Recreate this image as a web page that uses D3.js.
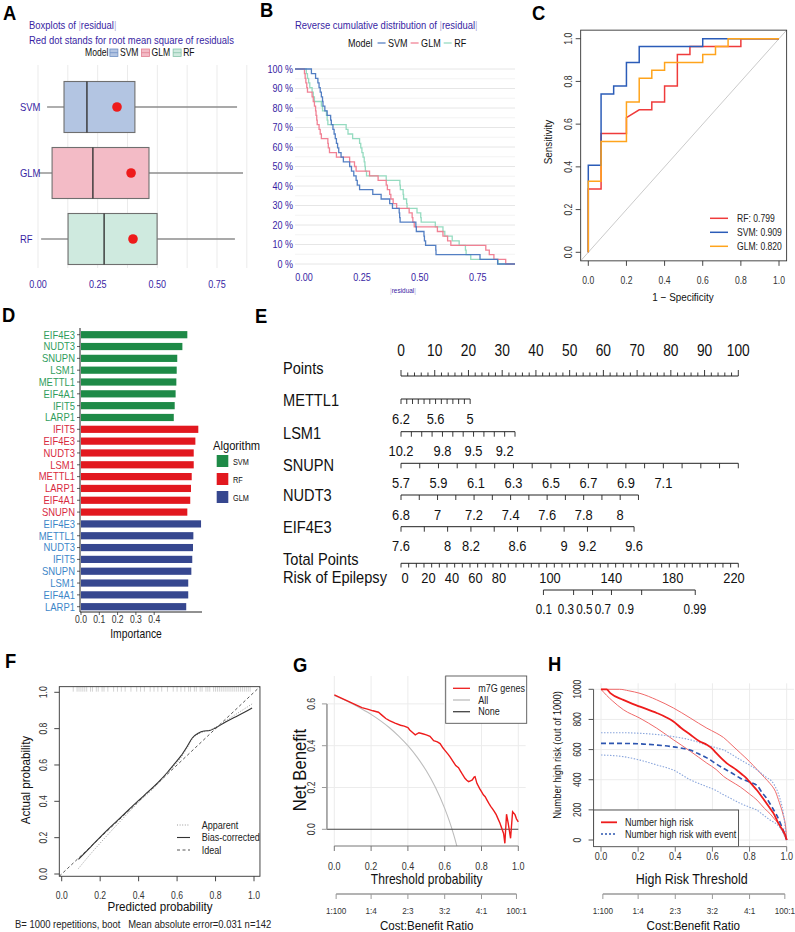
<!DOCTYPE html>
<html>
<head>
<meta charset="utf-8">
<script src="https://cdn.jsdelivr.net/npm/d3@7"></script>
<style>
  html, body { margin: 0; padding: 0; background: #fff; }
  svg { display: block; font-family: "Liberation Sans", Arial, Helvetica, sans-serif; }
</style>
</head>
<body>
<svg id="fig" width="795" height="932"></svg>
<script>
// ---------------- data ----------------
// A / B : absolute residuals per model
const models = ["SVM", "GLM", "RF"];
const boxQ1 = [0.109, 0.059, 0.126];
const boxMedian = [0.205, 0.23, 0.277];
const boxQ3 = [0.406, 0.465, 0.499];
const whiskerLow = [0.038, 0.004, 0.013];
const whiskerHigh = [0.834, 0.859, 0.825];
const rmse = [0.331, 0.39, 0.398];

const residSVM = [0.032,0.05,0.06,0.065,0.07,0.075,0.08,0.082,0.09,0.10,0.115,0.118,0.125,0.13,0.135,0.14,0.145,0.15,0.16,0.17,0.197,0.205,0.215,0.225,0.23,0.24,0.297,0.333,0.37,0.382,0.411,0.413,0.415,0.483,0.485,0.518,0.52,0.525,0.569,0.57,0.76,0.836];
const residGLM = [0.002,0.005,0.008,0.012,0.015,0.035,0.04,0.045,0.05,0.052,0.055,0.057,0.065,0.07,0.075,0.103,0.105,0.11,0.14,0.197,0.218,0.225,0.283,0.32,0.355,0.36,0.37,0.375,0.385,0.40,0.454,0.467,0.47,0.476,0.576,0.60,0.62,0.634,0.785,0.80,0.82,0.871];
const residRF = [0.01,0.015,0.02,0.025,0.035,0.04,0.045,0.075,0.08,0.097,0.10,0.103,0.182,0.19,0.21,0.24,0.245,0.25,0.255,0.26,0.263,0.265,0.27,0.355,0.414,0.416,0.428,0.43,0.443,0.445,0.488,0.504,0.506,0.567,0.60,0.608,0.64,0.67,0.697,0.70,0.72,0.838];

// C : ROC curves (1 - specificity, sensitivity)
const rocNames = ["RF", "SVM", "GLM"];
const rocAuc = [0.799, 0.909, 0.820];
const rocRF = [[0,0],[0,0.296],[0.067,0.296],[0.067,0.556],[0.2,0.556],[0.2,0.63],[0.267,0.667],[0.333,0.667],[0.333,0.704],[0.4,0.704],[0.4,0.778],[0.467,0.778],[0.467,0.926],[0.533,0.926],[0.533,0.963],[0.8,0.963],[0.8,1],[1,1]];
const rocSVM = [[0,0],[0,0.407],[0.067,0.407],[0.067,0.741],[0.133,0.741],[0.133,0.778],[0.2,0.778],[0.2,0.889],[0.267,0.889],[0.267,0.963],[0.6,0.963],[0.6,1],[1,1]];
const rocGLM = [[0,0],[0,0.333],[0.067,0.333],[0.067,0.519],[0.2,0.519],[0.2,0.704],[0.267,0.704],[0.267,0.815],[0.333,0.815],[0.333,0.852],[0.4,0.852],[0.4,0.889],[0.6,0.889],[0.6,0.926],[0.667,0.926],[0.667,0.963],[0.733,0.963],[0.733,1],[1,1]];

// D : importance
const algorithms = ["SVM", "RF", "GLM"];
const genesSVM = ["EIF4E3","NUDT3","SNUPN","LSM1","METTL1","EIF4A1","IFIT5","LARP1"];
const impSVM = [0.581,0.554,0.526,0.523,0.521,0.517,0.512,0.507];
const genesRF = ["IFIT5","EIF4E3","NUDT3","LSM1","METTL1","LARP1","EIF4A1","SNUPN"];
const impRF = [0.641,0.625,0.616,0.616,0.605,0.601,0.597,0.581];
const genesGLM = ["EIF4E3","METTL1","NUDT3","IFIT5","SNUPN","LSM1","EIF4A1","LARP1"];
const impGLM = [0.656,0.614,0.612,0.608,0.603,0.586,0.586,0.575];
const impTicks = [0, 0.1, 0.2, 0.3, 0.4];

// E : nomogram
const nomoVars = ["METTL1", "LSM1", "SNUPN", "NUDT3", "EIF4E3"];
const nomoFrom = [6.2, 10.2, 5.7, 6.8, 7.6];
const nomoTo = [5.0, 9.1, 7.5, 8.1, 9.6];
const nomoToPoints = [20.5, 33.8, 100, 70.4, 69.1];
const nomoStep = [0.1, 0.1, 0.1, 0.1, 0.2];
const nomoLabels = [[6.2,5.6,5],[10.2,9.8,9.5,9.2],[5.7,5.9,6.1,6.3,6.5,6.7,6.9,7.1],[6.8,7,7.2,7.4,7.6,7.8,8],[7.6,8,8.2,8.6,9,9.2,9.6]];
const totalLabels = [0,20,40,60,80,100,140,180,220];
const riskLabels = [0.1,0.3,0.5,0.7,0.9,0.99];
const lpIntercept = -8.57, lpSlope = 0.0686;

// F : calibration
const calBiasX = [0.087,0.15,0.2,0.25,0.3,0.35,0.4,0.45,0.5,0.55,0.58,0.62,0.65,0.68,0.71,0.74,0.77,0.8,0.85,0.9,0.95,0.99];
const calBiasY = [0.08,0.148,0.203,0.255,0.305,0.355,0.405,0.453,0.503,0.56,0.598,0.65,0.698,0.75,0.775,0.787,0.79,0.804,0.835,0.863,0.89,0.914];
const calAppX = [0.087,0.15,0.2,0.3,0.4,0.5,0.58,0.62,0.65,0.68,0.72,0.77,0.8,0.9,0.99];
const calAppY = [0.03,0.11,0.17,0.285,0.395,0.495,0.59,0.64,0.69,0.745,0.775,0.792,0.808,0.875,0.936];
const calRug = [0.06,0.08,0.09,0.1,0.11,0.12,0.13,0.15,0.16,0.18,0.19,0.21,0.22,0.24,0.27,0.29,0.31,0.33,0.36,0.39,0.41,0.43,0.46,0.48,0.5,0.52,0.55,0.58,0.6,0.62,0.64,0.66,0.67,0.69,0.7,0.72,0.73,0.75,0.76,0.77,0.79,0.8,0.81,0.82,0.83,0.84,0.85,0.86,0.87,0.88,0.89,0.9,0.91,0.92,0.93,0.94,0.95,0.96,0.97,0.98];

// G : decision curve
const dcaThresh = [0,0.05,0.10,0.15,0.18,0.21,0.24,0.26,0.28,0.30,0.33,0.36,0.38,0.40,0.41,0.43,0.44,0.46,0.48,0.50,0.52,0.54,0.56,0.575,0.59,0.60,0.62,0.63,0.645,0.66,0.675,0.685,0.695,0.71,0.72,0.73,0.74,0.75,0.76,0.765,0.775,0.79,0.80,0.81,0.82,0.83,0.84,0.85,0.86,0.87,0.88,0.89,0.90,0.91,0.92,0.927,0.936,0.945,0.958,0.969,0.982,0.99,1.0];
const dcaModel = [0.643,0.623,0.603,0.582,0.575,0.567,0.56,0.545,0.53,0.52,0.508,0.498,0.494,0.487,0.475,0.46,0.452,0.462,0.457,0.452,0.445,0.424,0.418,0.41,0.39,0.379,0.357,0.345,0.325,0.305,0.295,0.28,0.265,0.244,0.235,0.228,0.232,0.236,0.25,0.252,0.22,0.195,0.18,0.165,0.156,0.14,0.124,0.11,0.098,0.085,0.07,0.05,0.03,0.005,-0.02,-0.067,0.072,0.03,-0.043,0.084,0.07,0.05,0.036];
const dcaAllThresh = [0,0.05,0.1,0.15,0.2,0.25,0.3,0.35,0.4,0.45,0.5,0.55,0.6,0.625,0.65,0.675];
const dcaAll = [0.64,0.621,0.6,0.576,0.55,0.52,0.486,0.446,0.4,0.345,0.28,0.2,0.1,0.04,-0.029,-0.11];
const costTicks = [0.01,0.2,0.4,0.6,0.8,0.99];
const costLabels = ["1:100","1:4","2:3","3:2","4:1","100:1"];

// H : clinical impact
const hrX = [0,0.03,0.05,0.12,0.21,0.30,0.35,0.39,0.43,0.48,0.53,0.57,0.60,0.62,0.65,0.68,0.73,0.76,0.785,0.81,0.84,0.87,0.89,0.91,0.93,0.955,0.975,0.99,1];
const hrY = [1000,1000,975,930,885,843,815,787,745,700,655,632,605,578,540,507,465,435,408,372,330,280,245,210,175,112,72,40,0];
const hrHiX = [0,0.1,0.15,0.21,0.3,0.39,0.48,0.57,0.62,0.66,0.70,0.75,0.80,0.84,0.88,0.91,0.94,0.96,0.98,0.995,1];
const hrHiY = [1000,1000,990,973,930,876,810,742,710,680,635,578,520,468,415,375,320,250,170,80,0];
const hrLoX = [0,0.03,0.06,0.12,0.21,0.3,0.39,0.48,0.57,0.62,0.66,0.70,0.75,0.80,0.84,0.88,0.91,0.94,0.96,0.98,1];
const hrLoY = [1000,960,925,865,808,742,665,590,510,468,422,390,352,305,265,210,175,130,100,50,0];
const evX = [0,0.1,0.21,0.3,0.39,0.45,0.48,0.52,0.57,0.62,0.66,0.70,0.75,0.80,0.84,0.87,0.89,0.92,0.946,0.973,1];
const evY = [641,641,638,630,618,605,597,575,545,505,475,448,410,385,362,310,280,220,165,90,0];
const evHiX = [0,0.1,0.21,0.3,0.39,0.48,0.57,0.62,0.66,0.70,0.75,0.80,0.84,0.88,0.93,0.96,0.98,1];
const evHiY = [712,712,708,700,686,665,630,612,597,570,532,498,465,425,372,290,190,0];
const evLoX = [0,0.12,0.21,0.3,0.39,0.48,0.57,0.62,0.66,0.70,0.75,0.80,0.84,0.88,0.91,0.96,1];
const evLoY = [564,553,530,498,464,400,354,328,300,275,243,218,198,160,133,88,0];

// ---------------- helpers ----------------
const svg = d3.select("#fig");
const SX = 0.86;
const PURPLE = "#371ea3";

const txt = (g, x, y, s, o = {}) => {
  const t = g.append("text")
    .attr("transform", `translate(${x},${y})` + (o.rotate ? ` rotate(${o.rotate})` : "") + ` scale(${o.sx ?? SX},1)`)
    .attr("text-anchor", o.anchor || "start")
    .attr("dy", "0.35em")
    .attr("font-size", o.size || 11)
    .attr("fill", o.fill || "#111")
    .style("white-space", "pre")
    .text(s);
  if (o.bold) t.attr("font-weight", "bold");
  return t;
};

const seg = (g, x1, y1, x2, y2, stroke = "#000", width = 1, dash = null) =>
  g.append("line").attr("x1", x1).attr("y1", y1).attr("x2", x2).attr("y2", y2)
    .attr("stroke", stroke).attr("stroke-width", width).attr("stroke-dasharray", dash);

const clipRect = (id, x0, y0, x1, y1) => {
  svg.append("clipPath").attr("id", id).append("rect")
    .attr("x", x0).attr("y", y0).attr("width", x1 - x0).attr("height", y1 - y0);
  return `url(#${id})`;
};

const zip = (xs, ys) => xs.map((x, i) => [x, ys[i]]);
const fmt1 = d3.format(".1f");

// panel letters
[["A", 3, 12.5], ["B", 260, 10], ["C", 532, 12.5], ["D", 2, 315], ["E", 255, 316],
 ["F", 5, 660.5], ["G", 293, 664.5], ["H", 548, 663.5]]
  .forEach(([l, x, y]) => txt(svg, x, y, l, { size: 20, bold: true, sx: 0.92, fill: "#000" }));

// ---------------- A: boxplots ----------------
(function () {
  const g = svg.append("g");
  const xA = d3.scaleLinear([0, 0.75], [38, 217]);
  const yA = d3.scalePoint(models, [107, 239]);
  const boxH = 51;
  const boxFill = { SVM: "#b3c5e2", GLM: "#f3bbc6", RF: "#cfeadf" };
  const keyStroke = { SVM: "#6e8fc4", GLM: "#e07f91", RF: "#86c3a9" };

  g.selectAll("line.grid").data(d3.range(0, 0.876, 0.125)).join("line").attr("class", "grid")
    .attr("x1", d => xA(d)).attr("x2", d => xA(d)).attr("y1", 65).attr("y2", 268)
    .attr("stroke", "#ebebeb");

  const t1 = txt(g, 29, 25, "", { size: 11, fill: PURPLE });
  t1.append("tspan").text("Boxplots of ");
  t1.append("tspan").attr("fill", "#b0aad8").text("|");
  t1.append("tspan").text("residual");
  t1.append("tspan").attr("fill", "#b0aad8").text("|");
  txt(g, 29, 40, "Red dot stands for root mean square of residuals", { size: 11, fill: PURPLE });

  // legend
  let x = 85;
  const lt = txt(g, x, 52.7, "Model", { size: 10 });
  x += lt.node().getComputedTextLength() * SX + 1.5;
  models.forEach(m => {
    g.append("rect").attr("x", x).attr("y", 49).attr("width", 8).attr("height", 7.5)
      .attr("fill", boxFill[m]).attr("stroke", keyStroke[m]).attr("stroke-width", 0.8);
    seg(g, x, 52.7, x + 8, 52.7, keyStroke[m], 0.8);
    x += 10;
    const t = txt(g, x, 52.7, m, { size: 10 });
    x += t.node().getComputedTextLength() * SX + 3;
  });

  models.forEach((m, i) => {
    const cy = yA(m);
    seg(g, xA(whiskerLow[i]), cy, xA(boxQ1[i]), cy, "#8c8c8c", 1.4);
    seg(g, xA(boxQ3[i]), cy, xA(whiskerHigh[i]), cy, "#8c8c8c", 1.4);
    g.append("rect").attr("x", xA(boxQ1[i])).attr("y", cy - boxH / 2)
      .attr("width", xA(boxQ3[i]) - xA(boxQ1[i])).attr("height", boxH)
      .attr("fill", boxFill[m]).attr("stroke", "#6f6f6f").attr("stroke-width", 1.1);
    seg(g, xA(boxMedian[i]), cy - boxH / 2, xA(boxMedian[i]), cy + boxH / 2, "#333", 1.4);
    g.append("circle").attr("cx", xA(rmse[i])).attr("cy", cy).attr("r", 4.8).attr("fill", "#ee1b1b");
    txt(g, 20, cy, m, { size: 11, fill: PURPLE });
  });

  [0, 0.25, 0.5, 0.75].forEach(v => txt(g, xA(v), 284, d3.format(".2f")(v), { size: 10.5, fill: PURPLE, anchor: "middle" }));
})();

// ---------------- B: reverse cumulative distribution ----------------
(function () {
  const g = svg.append("g");
  const xB = d3.scaleLinear([0, 0.75], [304, 477.7]);
  const yB = d3.scaleLinear([0, 1], [264, 69]);
  const left = 295, right = 515;
  const lineColor = { SVM: "#4a78c0", GLM: "#f07a8e", RF: "#8fd9bd" };
  const resid = { SVM: residSVM, GLM: residGLM, RF: residRF };

  g.selectAll("line.grid").data(d3.range(0, 1.001, 0.05)).join("line").attr("class", "grid")
    .attr("x1", left).attr("x2", right).attr("y1", d => yB(d)).attr("y2", d => yB(d))
    .attr("stroke", (d, i) => i % 2 ? "#f3f3f3" : "#e6e6e6");

  const t1 = txt(g, 295, 25, "", { size: 11, fill: PURPLE });
  t1.append("tspan").text("Reverse cumulative distribution of ");
  t1.append("tspan").attr("fill", "#b0aad8").text("|");
  t1.append("tspan").text("residual");
  t1.append("tspan").attr("fill", "#b0aad8").text("|");

  let x = 348;
  const lt = txt(g, x, 43, "Model", { size: 10.5 });
  x += lt.node().getComputedTextLength() * SX + 5;
  models.forEach(m => {
    seg(g, x, 43, x + 8, 43, lineColor[m], 1.2);
    x += 10.5;
    const t = txt(g, x, 43, m, { size: 10.5 });
    x += t.node().getComputedTextLength() * SX + 3;
  });

  const line = d3.line().x(d => xB(d[0])).y(d => yB(d[1])).curve(d3.curveStepAfter);
  ["RF", "GLM", "SVM"].forEach(m => {
    const s = resid[m].slice().sort(d3.ascending), n = s.length;
    const pts = [[xB.invert(left), 1], ...s.map((v, i) => [v, (n - i - 1) / n]), [xB.invert(right), 0]];
    g.append("path").attr("d", line(pts)).attr("fill", "none")
      .attr("stroke", lineColor[m]).attr("stroke-width", 1.3).attr("stroke-opacity", 0.95);
  });

  d3.range(0, 1.001, 0.1).forEach(v => txt(g, 293, yB(v), `${Math.round(v * 100)} %`, { size: 10.5, fill: PURPLE, anchor: "end" }));
  [0, 0.25, 0.5, 0.75].forEach(v => txt(g, xB(v), 277, d3.format(".2f")(v), { size: 10.5, fill: PURPLE, anchor: "middle" }));
  const t2 = txt(g, 403, 290, "", { size: 7.5, fill: PURPLE, anchor: "middle" });
  t2.append("tspan").attr("fill", "#b0aad8").text("|");
  t2.append("tspan").text("residual");
  t2.append("tspan").attr("fill", "#b0aad8").text("|");
})();

// ---------------- C: ROC ----------------
(function () {
  const g = svg.append("g");
  const xC = d3.scaleLinear([0, 1], [588.3, 779]);
  const yC = d3.scaleLinear([0, 1], [252.3, 38.7]);
  const x0 = xC(-0.04), x1 = xC(1.04), y0 = yC(-0.04), y1 = yC(1.04);
  const rocColor = { RF: "#ef3b3b", SVM: "#2b5cb8", GLM: "#ffa41c" };
  const rocData = { RF: rocRF, SVM: rocSVM, GLM: rocGLM };
  const clip = clipRect("clipC", x0, y1, x1, y0);

  seg(g, x0, y0, x1, y1, "#c4c4c4", 0.9).attr("clip-path", clip);
  const line = d3.line().x(d => xC(d[0])).y(d => yC(d[1]));
  rocNames.forEach(n => g.append("path").attr("d", line(rocData[n])).attr("fill", "none")
    .attr("stroke", rocColor[n]).attr("stroke-width", 1.5).attr("clip-path", clip));

  g.append("rect").attr("x", x0).attr("y", y1).attr("width", x1 - x0).attr("height", y0 - y1)
    .attr("fill", "none").attr("stroke", "#333").attr("stroke-width", 0.9);

  d3.range(0, 1.001, 0.2).forEach(v => {
    seg(g, x0, yC(v), x0 - 5, yC(v), "#333", 0.9);
    txt(g, x0 - 12.5, yC(v), fmt1(v), { size: 10, rotate: -90, anchor: "middle", fill: "#333" });
    seg(g, xC(v), y0, xC(v), y0 + 5, "#333", 0.9);
    txt(g, xC(v), 280, fmt1(v), { size: 10, anchor: "middle", fill: "#333" });
  });
  txt(g, 548, 142, "Sensitivity", { size: 11.5, rotate: -90, anchor: "middle" });
  txt(g, 683, 297, "1 \u2212 Specificity", { size: 11.5, anchor: "middle" });

  rocNames.forEach((n, i) => {
    const ly = 218.3 + i * 14;
    seg(g, 710, ly, 728, ly, rocColor[n], 1.5);
    txt(g, 737, ly, `${n}: ${d3.format(".3f")(rocAuc[i])}`, { size: 10, fill: "#222" });
  });
})();

// ---------------- D: importance bars ----------------
(function () {
  const g = svg.append("g");
  const xD = d3.scaleLinear([0, 0.4], [81, 154.2]);
  const barColor = { SVM: "#1e8a47", RF: "#e2181f", GLM: "#36478f" };
  const textColor = { SVM: "#2f9d5c", RF: "#d82a3e", GLM: "#3c86c8" };
  const groups = { SVM: [genesSVM, impSVM], RF: [genesRF, impRF], GLM: [genesGLM, impGLM] };
  const rows = algorithms.flatMap(a => groups[a][0].map((gene, i) => ({ alg: a, gene, v: groups[a][1][i] })));
  const yD = d3.scalePoint(d3.range(rows.length), [334.7, 606.7]);
  const barH = 7.2;

  g.selectAll("rect.bar").data(rows).join("rect").attr("class", "bar")
    .attr("x", xD(0)).attr("y", (d, i) => yD(i) - barH / 2)
    .attr("width", d => xD(d.v) - xD(0)).attr("height", barH)
    .attr("fill", d => barColor[d.alg]);

  seg(g, 80, 328, 80, 612, "#222", 1);
  seg(g, 80, 612, 202, 612, "#222", 1);
  rows.forEach((d, i) => {
    seg(g, 77, yD(i), 80, yD(i), "#333", 0.8);
    txt(g, 75, yD(i), d.gene, { size: 11, anchor: "end", fill: textColor[d.alg] });
  });
  impTicks.forEach(v => {
    seg(g, xD(v), 612, xD(v), 615, "#333", 0.8);
    txt(g, xD(v), 619.5, fmt1(v), { size: 10, anchor: "middle", fill: "#333" });
  });
  txt(g, 136, 633.5, "Importance", { size: 12, anchor: "middle" });

  txt(g, 213, 445, "Algorithm", { size: 13 });
  algorithms.forEach((a, i) => {
    const cy = 461 + i * 18;
    g.append("rect").attr("x", 216.7).attr("y", cy - 6).attr("width", 11.6).attr("height", 12).attr("fill", barColor[a]);
    txt(g, 233, cy + 1, a, { size: 8.5 });
  });
})();

// ---------------- E: nomogram ----------------
(function () {
  const g = svg.append("g");
  const xP = d3.scaleLinear([0, 100], [401, 738.3]);
  const xT = d3.scaleLinear([0, 220], [401, 738.3]);
  // the printed numbers of the two bottom rows sit crowded to the left in the source figure
  const xTotalLabel = d3.scaleLinear([0, 80, 100, 220], [405, 499, 550, 734]);
  const xRiskLabel = d3.scaleLinear([0.1, 0.3, 0.7, 0.9, 0.99], [544, 566, 603, 626, 695]);
  const ink = "#222";
  const rowLabel = (y, s) => txt(g, 283, y, s, { size: 17, fill: "#111" });

  // points axis
  rowLabel(368, "Points");
  seg(g, xP(0), 376, xP(100), 376, ink, 1);
  d3.range(0, 100.1, 2).forEach(v => seg(g, xP(v), 376, xP(v), v % 10 === 0 ? 370 : 372.5, ink, 0.9));
  d3.range(0, 100.1, 10).forEach(v => txt(g, xP(v), 350.7, String(v), { size: 16, anchor: "middle" }));

  // variable axes
  const axisY = [399, 431.7, 463.3, 495, 526.7];
  const labelY = [400, 433.3, 465, 495, 526.7];
  nomoVars.forEach((name, k) => {
    const sc = d3.scaleLinear([nomoFrom[k], nomoTo[k]], [xP(0), xP(nomoToPoints[k])]);
    const y = axisY[k];
    rowLabel(labelY[k], name);
    seg(g, sc(nomoFrom[k]), y, sc(nomoTo[k]), y, ink, 1);
    const n = Math.round(Math.abs(nomoTo[k] - nomoFrom[k]) / nomoStep[k]);
    const dir = Math.sign(nomoTo[k] - nomoFrom[k]);
    d3.range(n + 1).forEach(i => {
      const v = nomoFrom[k] + dir * i * nomoStep[k];
      seg(g, sc(v), y, sc(v), y + 5, ink, 0.9);
    });
    nomoLabels[k].forEach(v => txt(g, sc(v), y + 19.5, String(v), { size: 15, anchor: "middle" }));
  });

  // total points
  rowLabel(559.5, "Total Points");
  seg(g, xT(0), 563.3, xT(220), 563.3, ink, 1);
  d3.range(0, 220.1, 5).forEach(v => seg(g, xT(v), 563.3, xT(v), 567.5, ink, 0.9));
  totalLabels.forEach(v => txt(g, xTotalLabel(v), 577.5, String(v), { size: 15, anchor: "middle" }));

  // risk
  rowLabel(577.5, "Risk of Epilepsy");
  const riskX = p => xT((Math.log(p / (1 - p)) - lpIntercept) / lpSlope);
  seg(g, riskX(riskLabels[0]), 590, riskX(riskLabels[riskLabels.length - 1]), 590, ink, 1);
  riskLabels.forEach(p => {
    seg(g, riskX(p), 590, riskX(p), 595, ink, 0.9);
    txt(g, xRiskLabel(p), 608.3, String(p), { size: 15, anchor: "middle", sx: 0.78 });
  });
})();

// ---------------- F: calibration ----------------
(function () {
  const g = svg.append("g");
  const xF = d3.scaleLinear([0, 1], [61.7, 254]);
  const yF = d3.scaleLinear([0, 1], [874, 692.3]);
  const x0 = xF(-0.0125), x1 = xF(1.031), y0 = yF(-0.0125), y1 = yF(1.031);
  const clip = clipRect("clipF", x0, y1, x1, y0);
  const line = d3.line().x(d => xF(d[0])).y(d => yF(d[1])).curve(d3.curveMonotoneX);

  calRug.forEach(v => seg(g, xF(v), y1, xF(v), y1 + 5, "#b5b5b5", 0.6));
  seg(g, xF(-0.0125), yF(-0.0125), xF(1.031), yF(1.031), "#444", 0.9, "3,2.5").attr("clip-path", clip);
  g.append("path").attr("d", line(zip(calAppX, calAppY))).attr("fill", "none")
    .attr("stroke", "#9a9a9a").attr("stroke-width", 1).attr("stroke-dasharray", "1,1.6");
  g.append("path").attr("d", line(zip(calBiasX, calBiasY))).attr("fill", "none")
    .attr("stroke", "#333").attr("stroke-width", 1.1);

  g.append("rect").attr("x", x0).attr("y", y1).attr("width", x1 - x0).attr("height", y0 - y1)
    .attr("fill", "none").attr("stroke", "#333").attr("stroke-width", 0.9);
  d3.range(0, 1.001, 0.2).forEach(v => {
    seg(g, xF(v), y0, xF(v), y0 + 5, "#333", 0.9);
    txt(g, xF(v), 895, fmt1(v), { size: 10, anchor: "middle", fill: "#333" });
    seg(g, x0, yF(v), x0 - 5, yF(v), "#333", 0.9);
    txt(g, 43.3, yF(v), fmt1(v), { size: 10, rotate: -90, anchor: "middle", fill: "#333" });
  });
  txt(g, 25, 780, "Actual probability", { size: 13.5, rotate: -90, anchor: "middle" });
  txt(g, 160, 906, "Predicted probability", { size: 13.5, anchor: "middle" });

  const leg = [["Apparent", "#9a9a9a", "1,1.6", 1], ["Bias-corrected", "#333", null, 1.1], ["Ideal", "#444", "3,2.5", 0.9]];
  leg.forEach(([s, c, dash, w], i) => {
    const ly = 825 + i * 12.5;
    seg(g, 177, ly, 190, ly, c, w, dash);
    txt(g, 201.7, ly, s, { size: 10.5, fill: "#222" });
  });
  txt(g, 15, 924, "B= 1000 repetitions, boot   Mean absolute error=0.031 n=142", { size: 11, fill: "#222" });
})();

// ---------------- G: decision curve ----------------
(function () {
  const g = svg.append("g");
  const xG = d3.scaleLinear([0, 1], [334.3, 518.3]);
  const yG = d3.scaleLinear([0, 0.6], [829.3, 703.9]);
  const left = xG(-0.04), right = xG(1.04), top = 676, bottom = 846;
  const clip = clipRect("clipG", left, top, right, bottom);
  const line = d3.line().x(d => xG(d[0])).y(d => yG(d[1]));

  d3.range(0, 1.001, 0.2).forEach(v => seg(g, xG(v), top, xG(v), bottom, "#ececec", 1));
  [0.2, 0.4, 0.6].forEach(v => seg(g, left, yG(v), right, yG(v), "#ececec", 1));

  g.append("path").attr("d", line.curve(d3.curveMonotoneX)(zip(dcaAllThresh, dcaAll)))
    .attr("fill", "none").attr("stroke", "#bdbdbd").attr("stroke-width", 1.1).attr("clip-path", clip);
  seg(g, left, yG(0), xG(1), yG(0), "#444", 1.1);
  g.append("path").attr("d", line.curve(d3.curveLinear)(zip(dcaThresh, dcaModel)))
    .attr("fill", "none").attr("stroke", "#ee1c1c").attr("stroke-width", 1.4).attr("clip-path", clip);

  // axes
  seg(g, left, yG(0), left, yG(0.6), "#9a9a9a", 1.6);
  [0, 0.2, 0.4, 0.6].forEach(v => {
    seg(g, left, yG(v), left - 5, yG(v), "#9a9a9a", 1);
    txt(g, 311.7, yG(v), fmt1(v), { size: 10, rotate: -90, anchor: "middle", fill: "#333" });
  });
  seg(g, xG(0), bottom, xG(1), bottom, "#777", 1);
  d3.range(0, 1.001, 0.2).forEach(v => {
    seg(g, xG(v), bottom, xG(v), bottom + 5, "#777", 1);
    txt(g, xG(v), 866.7, fmt1(v), { size: 10.5, anchor: "middle", fill: "#333" });
  });
  txt(g, 300, 770, "Net Benefit", { size: 18.5, rotate: -90, anchor: "middle", sx: 0.9 });
  txt(g, 426.7, 879.3, "Threshold probability", { size: 14, anchor: "middle" });

  seg(g, xG(costTicks[0]), 894, xG(costTicks[costTicks.length - 1]), 894, "#9a9a9a", 1.4);
  costTicks.forEach((t, i) => {
    seg(g, xG(t), 894, xG(t), 899, "#9a9a9a", 1);
    txt(g, xG(t), 911, costLabels[i], { size: 9.5, anchor: "middle", fill: "#333" });
  });
  txt(g, 426.7, 925, "Cost:Benefit Ratio", { size: 13.5, anchor: "middle" });

  // legend
  g.append("rect").attr("x", 445.7).attr("y", 676).attr("width", 81).attr("height", 47.3)
    .attr("fill", "#fff").attr("stroke", "#555").attr("stroke-width", 0.9);
  [["m7G genes", "#ee1c1c"], ["All", "#bdbdbd"], ["None", "#444"]].forEach(([s, c], i) => {
    const ly = 688.3 + i * 11.7;
    seg(g, 453, ly, 470, ly, c, 1.3);
    txt(g, 478.3, ly, s, { size: 10.5, fill: "#222" });
  });
})();

// ---------------- H: clinical impact ----------------
(function () {
  const g = svg.append("g");
  const xH = d3.scaleLinear([0, 1], [601, 786.7]);
  const yH = d3.scaleLinear([0, 1000], [840, 689.3]);
  const left = xH(-0.04), right = xH(1.04), top = yH(1040), bottom = yH(-44);
  const line = d3.line().x(d => xH(d[0])).y(d => yH(d[1])).curve(d3.curveMonotoneX);

  d3.range(0, 1.001, 0.2).forEach(v => seg(g, xH(v), top, xH(v), bottom, "#ececec", 1));
  d3.range(0, 1001, 200).forEach(v => seg(g, left, yH(v), right, yH(v), "#ececec", 1));

  const curves = [
    [hrHiX, hrHiY, "#f06a6a", 1, null],
    [hrLoX, hrLoY, "#f06a6a", 1, null],
    [evHiX, evHiY, "#8aa6dc", 1.1, "1.5,1.5"],
    [evLoX, evLoY, "#8aa6dc", 1.1, "1.5,1.5"],
    [evX, evY, "#2d55b0", 1.6, "5,3"],
    [hrX, hrY, "#ee1c1c", 1.8, null],
  ];
  curves.forEach(([xs, ys, c, w, dash]) => g.append("path").attr("d", line(zip(xs, ys)))
    .attr("fill", "none").attr("stroke", c).attr("stroke-width", w).attr("stroke-dasharray", dash));

  // legend
  g.append("rect").attr("x", left).attr("y", 810).attr("width", 145).attr("height", bottom - 810)
    .attr("fill", "#fff").attr("stroke", "#444").attr("stroke-width", 0.9);
  seg(g, 601, 822.3, 617, 822.3, "#ee1c1c", 1.8);
  txt(g, 625, 822.3, "Number high risk", { size: 10.5, fill: "#222" });
  seg(g, 601, 834, 617, 834, "#2d55b0", 1.4, "2,2");
  txt(g, 625, 834, "Number high risk with event", { size: 10.5, fill: "#222" });

  // axes
  seg(g, left, yH(0), left, yH(1000), "#555", 1);
  d3.range(0, 1001, 200).forEach(v => {
    seg(g, left, yH(v), left - 5, yH(v), "#555", 1);
    txt(g, 577.7, yH(v), String(v), { size: 10, rotate: -90, anchor: "middle", fill: "#333" });
  });
  seg(g, xH(0), bottom, xH(1), bottom, "#777", 1);
  d3.range(0, 1.001, 0.2).forEach(v => {
    seg(g, xH(v), bottom, xH(v), bottom + 5, "#777", 1);
    txt(g, xH(v), 856, fmt1(v), { size: 10.5, anchor: "middle", fill: "#333" });
  });
  txt(g, 556.7, 755, "Number high risk (out of 1000)", { size: 11, rotate: -90, anchor: "middle" });
  txt(g, 691.7, 879.3, "High Risk Threshold", { size: 14.5, anchor: "middle" });

  seg(g, xH(costTicks[0]), 894, xH(costTicks[costTicks.length - 1]), 894, "#9a9a9a", 1.4);
  costTicks.forEach((t, i) => {
    seg(g, xH(t), 894, xH(t), 899, "#9a9a9a", 1);
    txt(g, xH(t), 911, costLabels[i], { size: 9.5, anchor: "middle", fill: "#333" });
  });
  txt(g, 693.3, 925, "Cost:Benefit Ratio", { size: 13.5, anchor: "middle" });
})();
</script>
</body>
</html>
